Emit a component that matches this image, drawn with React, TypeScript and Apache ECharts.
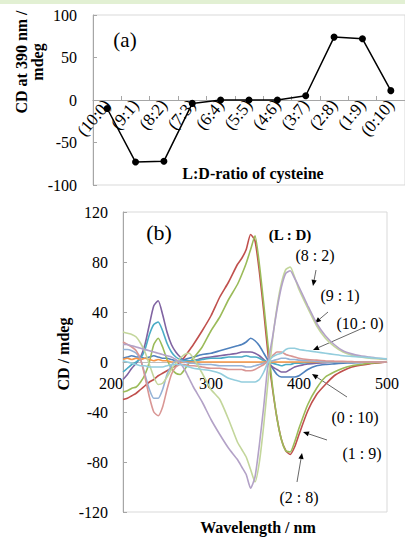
import React, { useEffect, useRef } from 'react';
import * as echarts from 'echarts';

// Panel (a): CD at 390 nm vs L:D ratio
const ratioLabels = ['(10:0)', '(9:1)', '(8:2)', '(7:3)', '(6:4)', '(5:5)', '(4:6)', '(3:7)', '(2:8)', '(1:9)', '(0:10)'];
const cd390 = [-10, -73, -72, -4, 0, 0, 0, 5, 74, 72, 11];

// Panel (b): CD spectra
const wavelength = [200, 205, 210, 215, 220, 225, 230, 235, 240, 245, 250, 255, 260, 265, 270, 275, 280,
  290, 300, 310, 320, 330,
  335, 340, 345, 350, 355, 360, 365, 370, 375, 380, 385, 390, 395, 400,
  410, 420, 430, 440, 450, 460, 470, 480, 490, 500];

const specBlue = [3, 4, 5, 4, 4, 3, 4, 5, 4, 3, 3, 2, 1, 1, 2, 3, 4,
  6, 7, 9, 11, 13,
  14, 16, 19, 17, 13, 7, 1, -5, -10, -12, -12, -12, -12, -11,
  -6, -3, -2, -1.5, -1, -0.7, -0.5, -0.3, -0.2, 0];
const specRed = [-30, -29, -27, -25, -22, -19, -16, -14, -11, -9, -7, -5, -3, 0, 4, 9, 14,
  25, 37, 52, 64, 78,
  83, 90, 102, 97, 72, 40, 5, -22, -45, -62, -71, -74, -68, -58,
  -39, -26, -18, -11, -7, -4, -2.5, -1.5, -0.8, 0];
const specGreen = [-24, -23, -21, -20, -16, -10, 0, 14, 19, 12, 2, -5, -9, -10, -6, -1, 3,
  12, 25, 36, 50, 62,
  70, 79, 90, 101, 78, 46, 12, -20, -45, -62, -71, -72, -64, -53,
  -34, -21, -12, -8, -5, -3, -2, -1, -0.5, 0];
const specPurple = [-14, -10, -5, -1, 4, 14, 30, 45, 49, 38, 24, 14, 8, 4, 1, 0, 1,
  3, 4, 5, 6, 7,
  8, 8, 8, 7, 5, 2, -1, -4, -6, -8, -8, -6, -4, -3,
  -1.5, -1, -0.5, 0, 0, 0, 0, 0, 0, 0];
const specAqua = [-8, -5, -2, 0, 3, 10, 22, 30, 32, 25, 15, 8, 4, 2, 1, 1, 1,
  2, 3, 3, 4, 4,
  4, 5, 4, 4, 3, 1, 0, -1, -2, -3, -2, -2, -1, -1,
  -0.5, 0, 0, 0, 0, 0, 0, 0, 0, 0];
const specOrange = [2, 3, 2, 3, 2, 3, 2, 1, 2, 1, 1, 0, 0, 0, 0, 0, 0,
  0, 0, 0, 0, 0,
  0, 0, 0, 0, 0, 0, 0, 0, 0, 0, 0, 0, 0, 0,
  0, 0, 0, 0, 0, 0, 0, 0, 0, 0];
const specLightBlue = [10, 10, 9, 7, 2, -10, -22, -29, -29, -22, -10, -3, 1, 1, 0, -1, -1,
  -2, -2, -3, -3, -3,
  -3, -4, -4, -3, -2, -1, 0, 1, 2, 3, 3, 2, 2, 1.5,
  1, 0.5, 0, 0, 0, 0, 0, 0, 0, 0];
const specPink = [16, 14, 12, 9, 2, -12, -28, -40, -43, -36, -22, -10, -4, -2, -2, -3, -3,
  -4, -5, -5, -6, -6,
  -6, -7, -7, -6, -4, -2, 1, 5, 8, 8, 6, 5, 4, 3,
  2, 1.5, 1, 0.7, 0.5, 0.3, 0, 0, 0, 0];
const specLightGreen = [24, 23, 22, 20, 15, 8, -2, -12, -18, -17, -12, -6, -1, 3, 6, 7, 3,
  -9, -22, -30, -46, -64,
  -70, -76, -86, -96, -80, -50, -14, 18, 44, 63, 74, 76, 68, 58,
  43, 29, 19, 12.5, 8, 5.5, 4, 3, 2.5, 2];
const specLightPurple = [14, 14, 13, 12, 11, 10, 9, 8, 7, 6, 5, 4, 2, -1, -6, -13, -20,
  -32, -46, -58, -69, -78,
  -84, -90, -101, -92, -66, -35, 0, 20, 42, 60, 71, 73, 67, 60,
  45, 31, 21, 14, 9, 6.5, 5, 4, 3, 2.5];
const specLightAqua = [1, 0, -1, -2, -3, -3, -4, -4, -4, -4, -3, -2, -2, -2, -3, -4, -5,
  -6, -7, -9, -13, -15,
  -16, -16, -16, -16, -14, -8, 0, 4, 6, 7, 10, 11, 11, 10,
  9, 8, 7, 6, 5, 4.5, 4, 3.5, 3, 2.5];

const spectraNames = ['(0:10)', '(2:8)', '(1:9)', '(3:7)', '(4:6)', '(5:5)', '(6:4)', '(7:3)', '(8:2)', '(9:1)', '(10:0)'];
const spectraValues = [specBlue, specRed, specGreen, specPurple, specAqua, specOrange, specLightBlue, specPink, specLightGreen, specLightPurple, specLightAqua];
const spectraColors = ['#4F81BD', '#C0504D', '#9BBB59', '#8064A2', '#4BACC6', '#F79646', '#95B3D7', '#D99694', '#C3D69B', '#B3A2C7', '#93CDDD'];

const SERIF = '"Liberation Serif", "Times New Roman", serif';

function arrow(x1: number, y1: number, x2: number, y2: number) {
  const dx = x2 - x1;
  const dy = y2 - y1;
  const len = Math.sqrt(dx * dx + dy * dy);
  const ux = dx / len;
  const uy = dy / len;
  const hl = 6;
  const hw = 2.6;
  const bx = x2 - ux * hl;
  const by = y2 - uy * hl;
  return [
    { type: 'line', shape: { x1, y1, x2: bx, y2: by }, style: { stroke: '#404040', lineWidth: 0.8 } },
    {
      type: 'polygon',
      shape: { points: [[x2, y2], [bx - uy * hw, by + ux * hw], [bx + uy * hw, by - ux * hw]] },
      style: { fill: '#000' },
    },
  ];
}

function txt(text: string, x: number, y: number, size: number, bold = false, rotation = 0, lineHeight?: number) {
  return {
    type: 'text',
    x,
    y,
    rotation,
    style: {
      text,
      fill: '#000',
      align: 'center',
      verticalAlign: 'middle',
      font: `${bold ? 'bold ' : ''}${size}px ${SERIF}`,
      lineHeight: lineHeight || size * 1.2,
    },
  };
}

export default function App() {
  const ref = useRef<HTMLDivElement>(null);
  useEffect(() => {
    const chart = echarts.init(ref.current!, null, { renderer: 'svg' });
    const axisGray = '#A6A6A6';
    const labelStyle = { color: '#000', fontFamily: SERIF, fontSize: 16 };
    const option: any = {
      animation: false,
      backgroundColor: '#fff',
      grid: [
        { left: 93, top: 15, width: 319, height: 170, show: true, borderColor: '#D9D9D9', borderWidth: 1, backgroundColor: 'transparent' },
        { left: 123, top: 212, width: 264, height: 300, show: true, borderColor: '#D9D9D9', borderWidth: 1, backgroundColor: 'transparent' },
      ],
      xAxis: [
        {
          type: 'category', gridIndex: 0, data: ratioLabels, boundaryGap: true,
          offset: -85,
          axisLine: { onZero: false, lineStyle: { color: axisGray } },
          axisTick: { show: true, inside: true, length: 4, lineStyle: { color: axisGray } },
          axisLabel: { ...labelStyle, fontSize: 17, rotate: 50, margin: 2, interval: 0 },
          splitLine: { show: false },
        },
        {
          type: 'value', gridIndex: 1, min: 200, max: 500, interval: 100,
          offset: -150,
          axisLine: { onZero: false, lineStyle: { color: '#BFBFBF' } },
          axisTick: { show: false },
          axisLabel: { ...labelStyle, margin: 13, alignMinLabel: 'right' },
          splitLine: { show: false },
        },
      ],
      yAxis: [
        {
          type: 'value', gridIndex: 0, min: -100, max: 100, interval: 50,
          axisLine: { show: true, lineStyle: { color: axisGray } },
          axisTick: { show: true, inside: true, length: 4, lineStyle: { color: axisGray } },
          axisLabel: { ...labelStyle, margin: 16 },
          splitLine: { show: false },
        },
        {
          type: 'value', gridIndex: 1, min: -120, max: 120, interval: 40,
          axisLine: { show: true, lineStyle: { color: axisGray } },
          axisTick: { show: true, inside: true, length: 4, lineStyle: { color: axisGray } },
          axisLabel: { ...labelStyle, margin: 15 },
          splitLine: { show: false },
        },
      ],
      series: [
        {
          type: 'line', name: 'CD at 390 nm', xAxisIndex: 0, yAxisIndex: 0, data: cd390,
          symbol: 'circle', symbolSize: 7, lineStyle: { color: '#000', width: 1.5 }, itemStyle: { color: '#000' },
        },
        ...spectraValues.map((vals, i) => ({
          type: 'line', name: spectraNames[i], xAxisIndex: 1, yAxisIndex: 1,
          data: wavelength.map((w, j) => [w, vals[j]]),
          symbol: 'none', smooth: 0.2,
          lineStyle: { color: spectraColors[i], width: 1.6 },
          itemStyle: { color: spectraColors[i] },
        })),
      ],
      graphic: [
        { type: 'rect', shape: { x: 0, y: 0, width: 405, height: 4 }, style: { fill: '#E2F0D3' } },
        txt('(a)', 125, 40, 21),
        txt('L:D-ratio of cysteine', 253, 173, 16, true),
        txt('CD at 390 nm /\nmdeg', 29, 62, 16, true, Math.PI / 2, 16),
        txt('(b)', 159, 232, 22),
        txt('(L : D)', 290, 235, 15, true),
        txt('(8 : 2)', 315, 255, 16),
        txt('(9 : 1)', 340, 295, 16),
        txt('(10 : 0)', 360, 323, 16),
        txt('(0 : 10)', 355, 417, 16),
        txt('(1 : 9)', 362, 453, 16),
        txt('(2 : 8)', 299, 497, 16),
        txt('Wavelength / nm', 258, 527, 16, true),
        txt('CD / mdeg', 63, 354, 16, true, Math.PI / 2),
        ...arrow(316, 270, 313, 286),
        ...arrow(328, 312, 315, 323),
        ...arrow(363, 328, 313, 350),
        ...arrow(347, 397, 312, 374),
        ...arrow(327, 440, 303, 432),
        ...arrow(297, 482, 302, 453),
      ],
    };
    chart.setOption(option);
    return () => chart.dispose();
  }, []);
  return <div ref={ref} style={{ position: 'fixed', left: 0, top: 0, width: 405, height: 537, background: '#fff' }} />;
}
